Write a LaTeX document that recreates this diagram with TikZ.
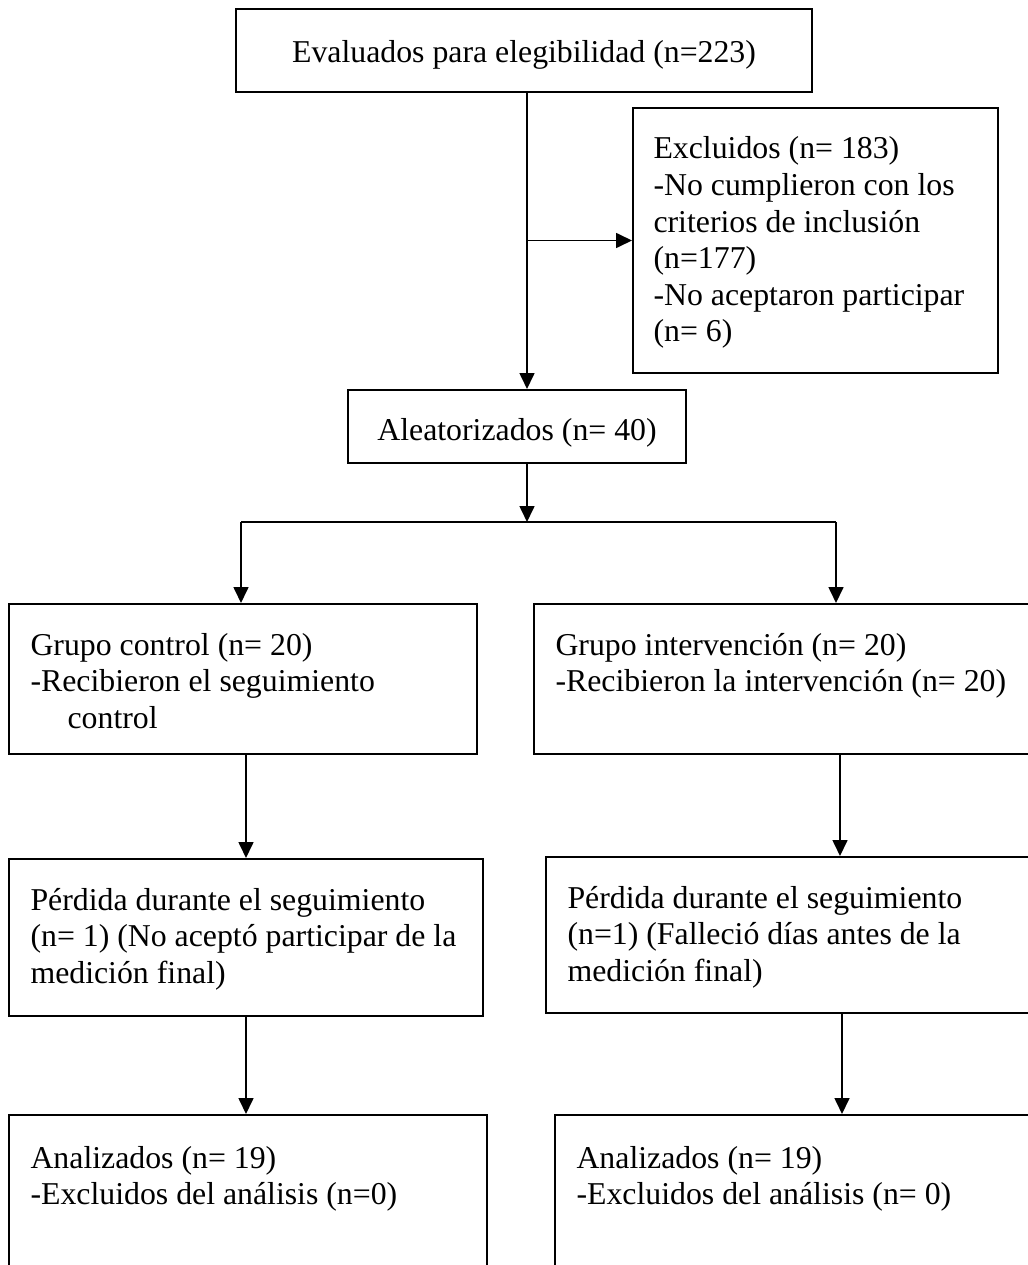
\documentclass[tikz,border=0pt]{standalone}
\usepackage{fontspec}
\setmainfont{Liberation Serif}
\usetikzlibrary{arrows.meta,fit}

\newcommand{\lines}[1]{\begin{tabular}[t]{@{}l@{}}#1\end{tabular}}

\begin{document}
\begin{tikzpicture}[
  x=0.3774pt, y=-0.3774pt,
  >={Triangle[length=6pt, width=5.6pt]},
  box/.style={draw, line width=0.75pt, inner sep=0pt},
  txt/.style={inner sep=0pt, anchor=base west, font=\fontsize{12pt}{13.8pt}\selectfont},
  ctxt/.style={txt, anchor=base},
  link/.style={line width=0.7pt}
]
  \useasboundingbox (0,0) rectangle (1028,1265);
  \clip (0,0) rectangle (1028,1265);

  % boxes
  \node[box, fit={(236,9) (812,92)}] (eval) {};
  \node[box, fit={(633,108) (998,373)}] (excl) {};
  \node[box, fit={(348,390) (686,463)}] (rand) {};
  \node[box, fit={(9,604) (477,754)}] (ctrl) {};
  \node[box, fit={(534,604) (1036,754)}] (interv) {};
  \node[box, fit={(9,859) (483,1016)}] (lossC) {};
  \node[box, fit={(546,857) (1036,1013)}] (lossI) {};
  \node[box, fit={(9,1115) (487,1280)}] (anaC) {};
  \node[box, fit={(555,1115) (1036,1280)}] (anaI) {};

  % texts
  \node[ctxt] (evalT) at (524,63) {Evaluados para elegibilidad (n=223)};
  \node[txt] (exclT) at (653,159) {\lines{Excluidos (n= 183)\\-No cumplieron con los\\criterios de inclusión\\(n=177)\\-No aceptaron participar\\(n= 6)}};
  \node[ctxt] (randT) at (517,440) {Aleatorizados (n= 40)};
  \node[txt] (ctrlT) at (30,655) {\lines{Grupo control (n= 20)\\-Recibieron el seguimiento\\\hspace*{14pt}control}};
  \node[txt] (intervT) at (555,655) {\lines{Grupo intervención (n= 20)\\-Recibieron la intervención (n= 20)}};
  \node[txt] (lossCT) at (30,910) {\lines{Pérdida durante el seguimiento\\(n= 1) (No aceptó participar de la\\medición final)}};
  \node[txt] (lossIT) at (567,908) {\lines{Pérdida durante el seguimiento\\(n=1) (Falleció días antes de la\\medición final)}};
  \node[txt] (anaCT) at (30,1168) {\lines{Analizados (n= 19)\\-Excluidos del análisis (n=0)}};
  \node[txt] (anaIT) at (576,1168) {\lines{Analizados (n= 19)\\-Excluidos del análisis (n= 0)}};

  % connectors
  \coordinate (spine) at (527,0);
  \coordinate (split) at (527,522);
  \coordinate (colL) at (241,0);
  \coordinate (colLb) at (246,0);
  \coordinate (colR) at (836,0);
  \coordinate (colRb) at (840,0);
  \coordinate (colRc) at (842,0);

  \draw[link, ->] (eval.south -| spine) -- (rand.north -| spine);
  \draw[link, ->] (spine |- excl.west) -- (excl.west);
  \draw[link, ->] (rand.south -| spine) -- (split);
  \draw[link] (split -| colL) -- (split -| colR);
  \draw[link, ->] (split -| colL) -- (ctrl.north -| colL);
  \draw[link, ->] (split -| colR) -- (interv.north -| colR);
  \draw[link, ->] (ctrl.south -| colLb) -- (lossC.north -| colLb);
  \draw[link, ->] (interv.south -| colRb) -- (lossI.north -| colRb);
  \draw[link, ->] (lossC.south -| colLb) -- (anaC.north -| colLb);
  \draw[link, ->] (lossI.south -| colRc) -- (anaI.north -| colRc);
\end{tikzpicture}
\end{document}
